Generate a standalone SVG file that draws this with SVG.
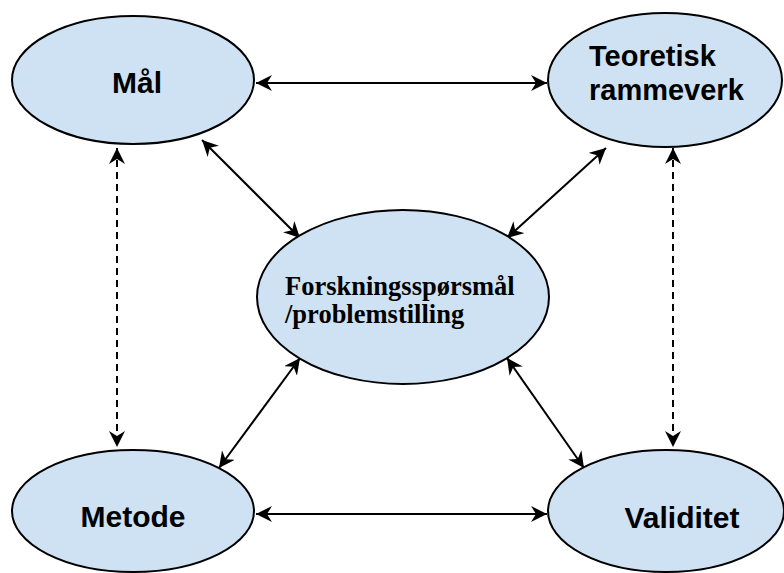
<svg xmlns="http://www.w3.org/2000/svg" width="784" height="573" viewBox="0 0 784 573">
<style>
.node{fill:#cfe2f3;stroke:#000;stroke-width:2}
.lbl{font-family:"Liberation Sans",Arial,sans-serif;font-weight:bold;font-size:30px;fill:#000}
.lbl2{font-family:"Liberation Serif","Times New Roman",serif;font-weight:bold;font-size:26.5px;fill:#000}
.c{fill:none;stroke:#000;stroke-width:2;marker-start:url(#ah);marker-end:url(#ah)}
.d{stroke-dasharray:7 5}
</style>
<defs>
<marker id="ah" markerUnits="userSpaceOnUse" markerWidth="18" markerHeight="18" viewBox="0 0 18 18" refX="16" refY="8" orient="auto-start-reverse">
<path d="M0,0 L16,8 L0,16 L5,8 z" fill="#000"/>
</marker>
</defs>
<rect width="784" height="573" fill="#fff"/>
<g id="connectors">
<line class="c" x1="256" y1="83" x2="547" y2="83"/>
<line class="c" x1="256" y1="514" x2="547" y2="514"/>
<line class="c d" x1="117" y1="148" x2="117" y2="447"/>
<line class="c d" x1="673" y1="148" x2="673" y2="447"/>
<line class="c" x1="202" y1="140" x2="300" y2="238"/>
<line class="c" x1="606" y1="148" x2="507" y2="238"/>
<line class="c" x1="300" y1="358" x2="219" y2="468"/>
<line class="c" x1="507" y1="358" x2="584" y2="468"/>
</g>
<g id="mal">
<ellipse class="node" cx="133" cy="80" rx="121" ry="64"/>
<text class="lbl" x="137" y="93" text-anchor="middle">Mål</text>
</g>
<g id="teoretisk">
<ellipse class="node" cx="665" cy="80" rx="117" ry="67"/>
<text class="lbl" x="589" y="66" style="font-size:29px">Teoretisk</text>
<text class="lbl" x="589" y="100" style="font-size:29px">rammeverk</text>
</g>
<g id="forskning">
<ellipse class="node" cx="403" cy="297" rx="146" ry="87"/>
<text class="lbl2" x="285" y="295">Forskningsspørsmål</text>
<text class="lbl2" x="285" y="323">/problemstilling</text>
</g>
<g id="metode">
<ellipse class="node" cx="133" cy="511" rx="121" ry="61"/>
<text class="lbl" x="133" y="527" text-anchor="middle">Metode</text>
</g>
<g id="validitet">
<ellipse class="node" cx="666" cy="511" rx="118" ry="61"/>
<text class="lbl" x="682" y="528" text-anchor="middle">Validitet</text>
</g>
</svg>
